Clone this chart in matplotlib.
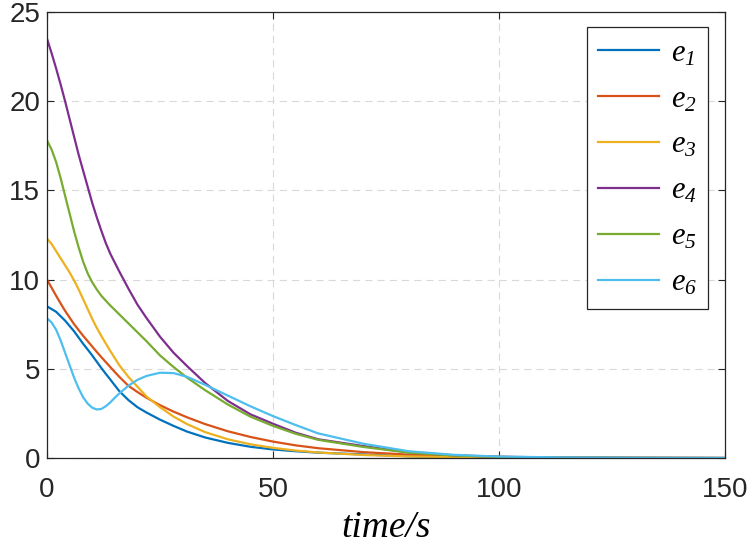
import matplotlib
matplotlib.use('Agg')
import matplotlib.pyplot as plt

# tiempos de muestreo (s)
t = [0, 1, 2, 3, 4, 5, 6, 7, 8, 9, 10, 11, 12, 13, 14, 15, 16, 18, 20, 22, 25, 28,
     31, 35, 40, 45, 50, 55, 60, 70, 80, 90, 100, 115, 130, 150]

# errores
e1 = [8.5, 8.35, 8.2, 7.95, 7.7, 7.4, 7.1, 6.75, 6.4, 6.08, 5.75, 5.4, 5.05, 4.72, 4.4,
      4.07, 3.75, 3.25, 2.85, 2.55, 2.15, 1.8, 1.48, 1.15, 0.85, 0.63, 0.48, 0.38, 0.3,
      0.2, 0.1, 0.05, 0.025, 0.01, 0.0, 0.0]
e2 = [10.0, 9.55, 9.1, 8.67, 8.25, 7.87, 7.5, 7.17, 6.85, 6.55, 6.25, 5.95, 5.66, 5.38,
      5.1, 4.82, 4.55, 4.05, 3.7, 3.38, 2.96, 2.6, 2.28, 1.9, 1.5, 1.18, 0.92, 0.71,
      0.55, 0.33, 0.19, 0.11, 0.06, 0.02, 0.01, 0.0]
e3 = [12.3, 12.0, 11.6, 11.2, 10.8, 10.4, 9.95, 9.45, 8.9, 8.35, 7.8, 7.3, 6.85, 6.42,
      6.0, 5.6, 5.2, 4.55, 4.0, 3.45, 2.85, 2.32, 1.9, 1.45, 1.05, 0.77, 0.57, 0.42, 0.31,
      0.17, 0.09, 0.05, 0.025, 0.01, 0.0, 0.0]
e4 = [23.5, 22.7, 21.85, 20.95, 20.0, 19.0, 18.0, 17.0, 16.1, 15.2, 14.3, 13.5, 12.75,
      12.05, 11.45, 10.95, 10.45, 9.5, 8.6, 7.85, 6.8, 5.9, 5.15, 4.2, 3.2, 2.45, 1.92,
      1.42, 1.05, 0.67, 0.32, 0.15, 0.07, 0.025, 0.01, 0.0]
e5 = [17.8, 17.3, 16.6, 15.7, 14.7, 13.7, 12.7, 11.8, 11.0, 10.35, 9.85, 9.45, 9.1,
      8.82, 8.55, 8.3, 8.05, 7.55, 7.05, 6.55, 5.75, 5.1, 4.5, 3.8, 3.0, 2.32, 1.8, 1.36,
      1.02, 0.62, 0.3, 0.14, 0.06, 0.02, 0.01, 0.0]
e6 = [7.83, 7.6, 7.2, 6.6, 5.9, 5.2, 4.5, 3.9, 3.4, 3.05, 2.82, 2.72, 2.75, 2.9, 3.12,
      3.38, 3.62, 4.05, 4.38, 4.6, 4.78, 4.76, 4.55, 4.1, 3.5, 2.9, 2.35, 1.85, 1.38,
      0.8, 0.38, 0.18, 0.08, 0.03, 0.01, 0.0]

series = [e1, e2, e3, e4, e5, e6]
labels = [r'$e_{1}$', r'$e_{2}$', r'$e_{3}$', r'$e_{4}$', r'$e_{5}$', r'$e_{6}$']
colores = ['#0072BD', '#D95319', '#EDB120', '#7E2F8E', '#77AC30', '#4DBEEE']

# fuentes estilo MATLAB
plt.rcParams['font.family'] = ['Liberation Sans', 'DejaVu Sans']
plt.rcParams['mathtext.fontset'] = 'custom'
plt.rcParams['mathtext.it'] = 'Liberation Serif:italic'
plt.rcParams['mathtext.rm'] = 'Liberation Serif:italic'

fig = plt.figure(figsize=(7.51, 5.45), dpi=100)
ax = fig.add_axes([0.0626, 0.1596, 0.9028, 0.8184])

for y, lab, c in zip(series, labels, colores):
    ax.plot(t, y, color=c, linewidth=1.6, label=lab)

ax.set_xlim(0, 150)
ax.set_ylim(0, 25)
ax.set_xticks([0, 50, 100, 150])
ax.set_yticks([0, 5, 10, 15, 20, 25])

ax.grid(True, color='#d9d9d9', linestyle=(0, (6.5, 4.5)), linewidth=0.8)
ax.tick_params(direction='in', length=5, width=0.8, labelsize=20, top=True, right=True,
               colors='#262626', labelcolor='#262626')
ax.tick_params(axis='x', pad=14)
ax.tick_params(axis='y', pad=5)
for s in ax.spines.values():
    s.set_color('#262626')
    s.set_linewidth(0.9)

ax.set_xlabel('time/s', fontsize=27, family='Liberation Serif', style='italic', labelpad=5)

leg = ax.legend(loc='upper right', bbox_to_anchor=(0.975, 0.966), borderaxespad=0,
                fontsize=22, fancybox=False, edgecolor='#262626', framealpha=1,
                handlelength=2.0, labelspacing=0.52, borderpad=0.36, handletextpad=0.4)
leg.get_frame().set_linewidth(0.9)

plt.savefig('out.png', dpi=100)
